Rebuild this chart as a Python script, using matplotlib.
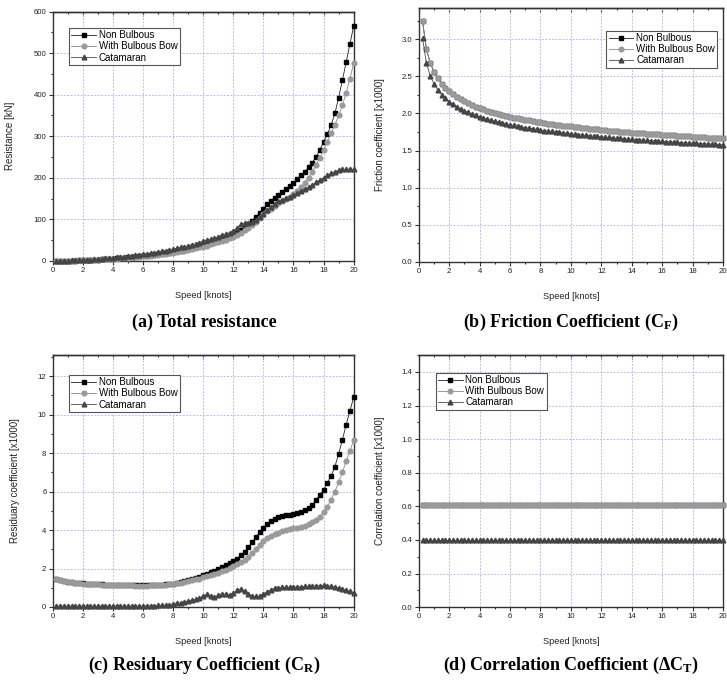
import matplotlib
matplotlib.use('Agg')
import matplotlib.pyplot as plt
from matplotlib.ticker import MultipleLocator, NullFormatter

plt.rcParams['font.family'] = ['Liberation Sans', 'DejaVu Sans']
plt.rcParams['mathtext.fontset'] = 'custom'
plt.rcParams['mathtext.rm'] = 'Liberation Serif:bold'
plt.rcParams['mathtext.bf'] = 'Liberation Serif:bold'
plt.rcParams['mathtext.it'] = 'Liberation Serif:bold:italic'

# ---------------- data ----------------
speed = [0.25, 0.5, 0.75, 1.0, 1.25, 1.5, 1.75, 2.0, 2.25, 2.5,
         2.75, 3.0, 3.25, 3.5, 3.75, 4.0, 4.25, 4.5, 4.75, 5.0,
         5.25, 5.5, 5.75, 6.0, 6.25, 6.5, 6.75, 7.0, 7.25, 7.5,
         7.75, 8.0, 8.25, 8.5, 8.75, 9.0, 9.25, 9.5, 9.75, 10.0,
         10.25, 10.5, 10.75, 11.0, 11.25, 11.5, 11.75, 12.0, 12.25, 12.5,
         12.75, 13.0, 13.25, 13.5, 13.75, 14.0, 14.25, 14.5, 14.75, 15.0,
         15.25, 15.5, 15.75, 16.0, 16.25, 16.5, 16.75, 17.0, 17.25, 17.5,
         17.75, 18.0, 18.25, 18.5, 18.75, 19.0, 19.25, 19.5, 19.75, 20.0]

series_names = ['Non Bulbous', 'With Bulbous Bow', 'Catamaran']

# (a) Total resistance [kN]
nb_resistance = [0.1, 0.2, 0.3, 0.5, 0.7, 0.9, 1.2, 1.5, 1.9, 2.3,
                 2.7, 3.2, 3.7, 4.2, 4.8, 5.4, 6.0, 6.7, 7.4, 8.2,
                 9.0, 9.8, 10.7, 11.6, 12.6, 13.6, 14.7, 15.8, 17.0, 18.3,
                 19.7, 21.2, 22.8, 24.5, 26.3, 28.2, 30.2, 32.4, 34.7, 37.2,
                 39.8, 42.6, 45.6, 48.8, 52.2, 55.8, 59.7, 63.9, 68.4, 73.5,
                 80.0, 88.0, 97, 106, 116, 126, 136, 145, 152, 159,
                 166, 174, 181, 188, 197, 206, 215, 225, 236, 251,
                 267, 286, 305, 327, 355, 393, 435, 478, 522, 566]
wb_resistance = [0.1, 0.2, 0.3, 0.4, 0.6, 0.8, 1.1, 1.4, 1.7, 2.1,
                 2.5, 2.9, 3.4, 3.9, 4.4, 5.0, 5.6, 6.2, 6.9, 7.6,
                 8.3, 9.1, 9.9, 10.8, 11.7, 12.6, 13.6, 14.6, 15.7, 16.9,
                 18.2, 19.6, 21.1, 22.7, 24.4, 26.2, 28.1, 30.1, 32.3, 34.6,
                 37.0, 39.5, 42.2, 45.1, 48.2, 51.5, 55.0, 58.7, 63, 68,
                 74, 80, 86, 94, 103, 112, 119, 126, 133, 140,
                 145, 150, 155, 160, 168, 177, 188, 200, 215, 230,
                 248, 267, 287, 307, 327, 350, 375, 405, 438, 476]
cat_resistance = [0.1, 0.3, 0.5, 0.8, 1.1, 1.4, 1.8, 2.3, 2.8, 3.3,
                  3.9, 4.5, 5.2, 5.9, 6.7, 7.5, 8.4, 9.3, 10.3, 11.3,
                  12.4, 13.5, 14.7, 16.0, 17.3, 18.7, 20.2, 21.7, 23.3, 25.0,
                  26.8, 28.6, 30.5, 32.5, 34.6, 36.8, 39.1, 41.5, 44.0, 47.5,
                  50.5, 52.0, 55.0, 58.5, 63, 65, 68, 72, 80, 88,
                  91, 92, 94, 98, 105, 113, 122, 130, 137, 143,
                  147, 151, 155, 159, 163, 168, 173, 178, 183, 189,
                  195, 200, 206, 211, 215, 218, 220, 221, 221, 220]

# (b) Friction coefficient [x1000]
nb_cf = [3.240, 2.870, 2.682, 2.560, 2.470, 2.401, 2.344, 2.297, 2.257, 2.221,
         2.190, 2.162, 2.136, 2.113, 2.092, 2.073, 2.055, 2.038, 2.022, 2.008,
         1.994, 1.981, 1.968, 1.957, 1.945, 1.935, 1.925, 1.915, 1.906, 1.897,
         1.888, 1.880, 1.872, 1.864, 1.857, 1.850, 1.843, 1.836, 1.830, 1.824,
         1.817, 1.812, 1.806, 1.800, 1.795, 1.789, 1.784, 1.780, 1.775, 1.770,
         1.765, 1.760, 1.756, 1.752, 1.748, 1.743, 1.739, 1.735, 1.731, 1.728,
         1.724, 1.720, 1.717, 1.713, 1.709, 1.706, 1.703, 1.700, 1.696, 1.693,
         1.690, 1.687, 1.684, 1.681, 1.678, 1.675, 1.672, 1.669, 1.666, 1.664]
wb_cf = [3.240, 2.870, 2.682, 2.560, 2.470, 2.401, 2.344, 2.297, 2.257, 2.221,
         2.190, 2.162, 2.136, 2.113, 2.092, 2.073, 2.055, 2.038, 2.022, 2.008,
         1.994, 1.981, 1.968, 1.957, 1.945, 1.935, 1.925, 1.915, 1.906, 1.897,
         1.888, 1.880, 1.872, 1.864, 1.857, 1.850, 1.843, 1.836, 1.830, 1.824,
         1.817, 1.812, 1.806, 1.800, 1.795, 1.789, 1.784, 1.780, 1.775, 1.770,
         1.765, 1.760, 1.756, 1.752, 1.748, 1.743, 1.739, 1.735, 1.731, 1.728,
         1.724, 1.720, 1.717, 1.713, 1.709, 1.706, 1.703, 1.700, 1.696, 1.693,
         1.690, 1.687, 1.684, 1.681, 1.678, 1.675, 1.672, 1.669, 1.666, 1.664]
cat_cf = [3.012, 2.679, 2.509, 2.398, 2.317, 2.254, 2.203, 2.160, 2.123, 2.090,
          2.062, 2.036, 2.013, 1.992, 1.973, 1.955, 1.939, 1.923, 1.908, 1.895,
          1.882, 1.871, 1.859, 1.848, 1.838, 1.828, 1.819, 1.810, 1.802, 1.793,
          1.786, 1.778, 1.770, 1.763, 1.757, 1.750, 1.744, 1.738, 1.732, 1.726,
          1.720, 1.715, 1.709, 1.704, 1.700, 1.694, 1.690, 1.685, 1.681, 1.676,
          1.672, 1.668, 1.664, 1.660, 1.656, 1.652, 1.648, 1.645, 1.641, 1.637,
          1.634, 1.631, 1.627, 1.624, 1.621, 1.618, 1.614, 1.612, 1.608, 1.605,
          1.603, 1.600, 1.597, 1.594, 1.591, 1.589, 1.586, 1.584, 1.581, 1.579]

# (c) Residuary coefficient [x1000]
nb_cr = [1.45, 1.40, 1.36, 1.32, 1.29, 1.27, 1.25, 1.23, 1.22, 1.21,
         1.19, 1.18, 1.17, 1.16, 1.16, 1.15, 1.14, 1.14, 1.13, 1.13,
         1.13, 1.12, 1.12, 1.12, 1.12, 1.13, 1.13, 1.14, 1.15, 1.17,
         1.19, 1.22, 1.25, 1.29, 1.34, 1.39, 1.45, 1.51, 1.58, 1.65,
         1.72, 1.80, 1.88, 1.97, 2.06, 2.16, 2.27, 2.38, 2.52, 2.68,
         2.87, 3.10, 3.36, 3.64, 3.88, 4.12, 4.33, 4.48, 4.58, 4.66,
         4.72, 4.76, 4.80, 4.84, 4.88, 4.93, 5.02, 5.15, 5.32, 5.55,
         5.82, 6.10, 6.45, 6.82, 7.30, 7.95, 8.70, 9.47, 10.20, 10.90]
wb_cr = [1.44, 1.39, 1.35, 1.31, 1.28, 1.26, 1.24, 1.22, 1.21, 1.20,
         1.18, 1.17, 1.16, 1.15, 1.15, 1.14, 1.13, 1.13, 1.12, 1.12,
         1.12, 1.11, 1.11, 1.11, 1.11, 1.12, 1.12, 1.13, 1.14, 1.16,
         1.18, 1.20, 1.23, 1.26, 1.30, 1.34, 1.38, 1.43, 1.48, 1.54,
         1.60, 1.66, 1.72, 1.79, 1.86, 1.94, 2.03, 2.13, 2.22, 2.33,
         2.46, 2.60, 2.78, 3.00, 3.23, 3.45, 3.58, 3.70, 3.80, 3.87,
         3.93, 3.98, 4.03, 4.08, 4.12, 4.17, 4.22, 4.30, 4.40, 4.53,
         4.70, 4.92, 5.22, 5.58, 6.00, 6.48, 7.00, 7.58, 8.12, 8.67]
cat_cr = [0.05, 0.05, 0.05, 0.05, 0.05, 0.05, 0.05, 0.05, 0.05, 0.05,
          0.05, 0.05, 0.05, 0.05, 0.05, 0.05, 0.05, 0.05, 0.05, 0.05,
          0.05, 0.05, 0.05, 0.05, 0.06, 0.07, 0.07, 0.08, 0.09, 0.10,
          0.12, 0.15, 0.19, 0.22, 0.26, 0.32, 0.36, 0.40, 0.46, 0.58,
          0.66, 0.55, 0.52, 0.60, 0.70, 0.66, 0.62, 0.72, 0.88, 0.95,
          0.85, 0.68, 0.58, 0.55, 0.58, 0.68, 0.80, 0.90, 0.97, 1.00,
          1.02, 1.03, 1.03, 1.04, 1.05, 1.06, 1.07, 1.08, 1.09, 1.10,
          1.11, 1.12, 1.10, 1.07, 1.03, 0.98, 0.93, 0.87, 0.81, 0.75]

# (d) Correlation coefficient [x1000]
nb_ct = [0.61, 0.61, 0.61, 0.61, 0.61, 0.61, 0.61, 0.61, 0.61, 0.61,
         0.61, 0.61, 0.61, 0.61, 0.61, 0.61, 0.61, 0.61, 0.61, 0.61,
         0.61, 0.61, 0.61, 0.61, 0.61, 0.61, 0.61, 0.61, 0.61, 0.61,
         0.61, 0.61, 0.61, 0.61, 0.61, 0.61, 0.61, 0.61, 0.61, 0.61,
         0.61, 0.61, 0.61, 0.61, 0.61, 0.61, 0.61, 0.61, 0.61, 0.61,
         0.61, 0.61, 0.61, 0.61, 0.61, 0.61, 0.61, 0.61, 0.61, 0.61,
         0.61, 0.61, 0.61, 0.61, 0.61, 0.61, 0.61, 0.61, 0.61, 0.61,
         0.61, 0.61, 0.61, 0.61, 0.61, 0.61, 0.61, 0.61, 0.61, 0.61]
wb_ct = [0.61, 0.61, 0.61, 0.61, 0.61, 0.61, 0.61, 0.61, 0.61, 0.61,
         0.61, 0.61, 0.61, 0.61, 0.61, 0.61, 0.61, 0.61, 0.61, 0.61,
         0.61, 0.61, 0.61, 0.61, 0.61, 0.61, 0.61, 0.61, 0.61, 0.61,
         0.61, 0.61, 0.61, 0.61, 0.61, 0.61, 0.61, 0.61, 0.61, 0.61,
         0.61, 0.61, 0.61, 0.61, 0.61, 0.61, 0.61, 0.61, 0.61, 0.61,
         0.61, 0.61, 0.61, 0.61, 0.61, 0.61, 0.61, 0.61, 0.61, 0.61,
         0.61, 0.61, 0.61, 0.61, 0.61, 0.61, 0.61, 0.61, 0.61, 0.61,
         0.61, 0.61, 0.61, 0.61, 0.61, 0.61, 0.61, 0.61, 0.61, 0.61]
cat_ct = [0.40, 0.40, 0.40, 0.40, 0.40, 0.40, 0.40, 0.40, 0.40, 0.40,
          0.40, 0.40, 0.40, 0.40, 0.40, 0.40, 0.40, 0.40, 0.40, 0.40,
          0.40, 0.40, 0.40, 0.40, 0.40, 0.40, 0.40, 0.40, 0.40, 0.40,
          0.40, 0.40, 0.40, 0.40, 0.40, 0.40, 0.40, 0.40, 0.40, 0.40,
          0.40, 0.40, 0.40, 0.40, 0.40, 0.40, 0.40, 0.40, 0.40, 0.40,
          0.40, 0.40, 0.40, 0.40, 0.40, 0.40, 0.40, 0.40, 0.40, 0.40,
          0.40, 0.40, 0.40, 0.40, 0.40, 0.40, 0.40, 0.40, 0.40, 0.40,
          0.40, 0.40, 0.40, 0.40, 0.40, 0.40, 0.40, 0.40, 0.40, 0.40]

captions = ['(a) Total resistance',
            r'(b) Friction Coefficient (C$_\mathrm{F}$)',
            r'(c) Residuary Coefficient (C$_\mathrm{R}$)',
            '(d) Correlation Coefficient (\u0394C$_\mathrm{T}$)']
ylabels = ['Resistance [kN]', 'Friction coefficient [x1000]',
           'Residuary coefficient [x1000]', 'Correlation coefficient [x1000]']

# ---------------- style ----------------
marker_styles = [('s', '#000000', '#222222'),
                 ('o', '#9a9a9a', '#8a8a8a'),
                 ('^', '#454545', '#4a4a4a')]

fig = plt.figure(figsize=(7.27, 6.83), dpi=100)

panels = [
    dict(rect=[0.0725, 0.618, 0.414, 0.365], data=[nb_resistance, wb_resistance, cat_resistance],
         ylim=(0, 600), ymaj=100, ymin=50, leg=(0.054, 0.935), ylx=-0.125,
         cap=(0.281, 1 - 322 / 683)),
    dict(rect=[0.576, 0.6164, 0.4185, 0.372], data=[nb_cf, wb_cf, cat_cf],
         ylim=(0, 3.42), ymaj=0.5, ymin=0.25, leg=(0.617, 0.911), ylx=-0.112,
         cap=(0.786, 1 - 322 / 683)),
    dict(rect=[0.0725, 0.1113, 0.414, 0.369], data=[nb_cr, wb_cr, cat_cr],
         ylim=(0, 13.1), ymaj=2, ymin=1, leg=(0.054, 0.921), ylx=-0.108,
         cap=(0.281, 1 - 665 / 683)),
    dict(rect=[0.576, 0.111, 0.4185, 0.369], data=[nb_ct, wb_ct, cat_ct],
         ylim=(0, 1.5), ymaj=0.2, ymin=0.1, leg=(0.056, 0.931), ylx=-0.112,
         cap=(0.786, 1 - 665 / 683)),
]

for i, p in enumerate(panels):
    ax = fig.add_axes(p['rect'])
    for name, (m, mc, lc), y in zip(series_names, marker_styles, p['data']):
        ax.plot(speed, y, marker=m, ms=3.4, color=lc, mfc=mc, mec=mc,
                lw=0.6, label=name, clip_on=False, zorder=3)
    ax.set_xlim(0, 20)
    ax.set_ylim(*p['ylim'])
    ax.xaxis.set_major_locator(MultipleLocator(2))
    ax.xaxis.set_minor_locator(MultipleLocator(1))
    ax.yaxis.set_major_locator(MultipleLocator(p['ymaj']))
    ax.yaxis.set_minor_locator(MultipleLocator(p['ymin']))
    ax.grid(True, which='major', color='#bcbcf2', ls=(0, (2, 1.5)), lw=0.7, zorder=0)
    ax.tick_params(which='both', direction='out', labelsize=5.6, width=0.8,
                   color='#333333', labelcolor='#222222', pad=1.5)
    ax.tick_params(which='major', length=3)
    ax.tick_params(which='minor', length=1.6)
    for s in ax.spines.values():
        s.set_linewidth(1.0)
        s.set_color('#333333')
    sec = ax.secondary_xaxis('top')
    sec.xaxis.set_major_locator(MultipleLocator(2))
    sec.xaxis.set_minor_locator(MultipleLocator(1))
    sec.xaxis.set_major_formatter(NullFormatter())
    sec.tick_params(which='both', direction='in', width=0.8, color='#333333')
    sec.tick_params(which='major', length=3)
    sec.tick_params(which='minor', length=1.6)
    sec.spines['top'].set_linewidth(1.0)
    sec.spines['top'].set_color('#333333')

    ax.set_xlabel('Speed [knots]', fontsize=6.6, color='#222222')
    ax.xaxis.set_label_coords(0.5, -0.12)
    ax.set_ylabel(ylabels[i], fontsize=7, color='#222222')
    ax.yaxis.set_label_coords(p['ylx'], 0.5)

    leg = ax.legend(loc='upper left', bbox_to_anchor=p['leg'], fontsize=7,
                    frameon=True, fancybox=False, edgecolor='#555555', framealpha=1,
                    borderpad=0.25, labelspacing=0.12, handlelength=2.5,
                    handletextpad=0.3, borderaxespad=0)
    leg.get_frame().set_linewidth(0.8)
    leg.set_zorder(5)

    fig.text(p['cap'][0], p['cap'][1], captions[i], ha='center', va='center',
             fontsize=13, fontweight='bold', family='Liberation Serif')

fig.savefig('out.png', dpi=100)
